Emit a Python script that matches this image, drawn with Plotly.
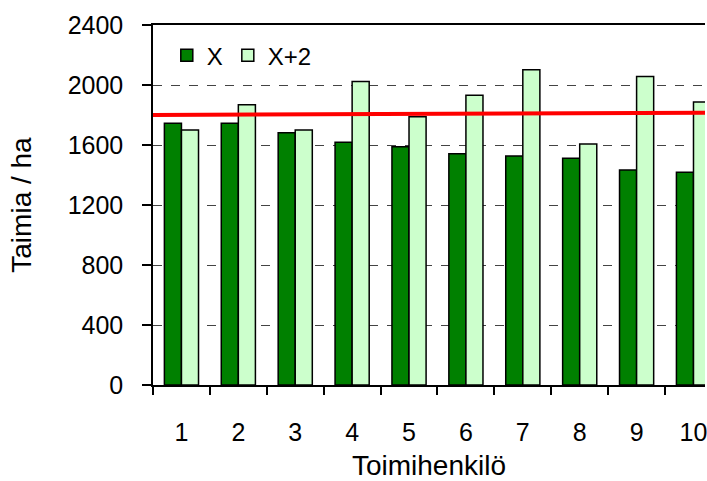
import plotly.graph_objects as go

categories = [1, 2, 3, 4, 5, 6, 7, 8, 9, 10]
tick_labels = ["1", "2", "3", "4", "5", "6", "7", "8", "9", "10"]
series_x = [1745, 1745, 1682, 1618, 1589, 1542, 1527, 1511, 1433, 1418]
series_x2 = [1700, 1869, 1700, 2024, 1789, 1931, 2102, 1607, 2056, 1887]
target_x = [0.5, 10.5]
target_y = [1800, 1816]
y_ticks = [0, 400, 800, 1200, 1600, 2000, 2400]

FONT = "Liberation Sans, Arial, sans-serif"

fig = go.Figure()
fig.add_trace(go.Bar(x=categories, y=series_x, name="X",
                     marker=dict(color="#008000", line=dict(color="black", width=1.5))))
fig.add_trace(go.Bar(x=categories, y=series_x2, name="X+2",
                     marker=dict(color="#CCFFCC", line=dict(color="black", width=1.5))))
fig.add_trace(go.Scatter(x=target_x, y=target_y, mode="lines", showlegend=False,
                         line=dict(color="#FF0000", width=4), cliponaxis=True))

fig.update_layout(
    width=707, height=481,
    margin=dict(l=153, r=0, t=25, b=96),
    paper_bgcolor="white", plot_bgcolor="white",
    font=dict(family=FONT, size=25, color="black"),
    barmode="group", bargap=0.4, bargroupgap=0,
    showlegend=True,
    legend=dict(orientation="h", x=0.025, y=0.915, xanchor="left", yanchor="middle",
                bgcolor="rgba(0,0,0,0)", font=dict(size=24), itemwidth=30,
                traceorder="normal"),
)
fig.update_xaxes(
    range=[0.5, 0.5 + (707 - 153) / 57.1],
    tickmode="array", tickvals=categories, ticktext=tick_labels,
    ticks="", showgrid=False, zeroline=False,
    showline=True, linecolor="black", linewidth=1.5, mirror=True,
    minor=dict(tickmode="array", tickvals=[c - 0.5 for c in categories] + [10.5],
               ticks="outside", ticklen=8, tickcolor="black", tickwidth=1.5, showgrid=False),
    ticklabelstandoff=24, ticklabeloverflow="allow",
    title=dict(text="Toimihenkilö", font=dict(size=28), standoff=12),
    fixedrange=True,
)
fig.update_yaxes(
    range=[0, 2400], tickmode="array", tickvals=y_ticks,
    ticks="outside", ticklen=9, tickwidth=1.5, tickcolor="black",
    showline=True, linecolor="black", linewidth=1.5, mirror=False,
    showgrid=True, gridcolor="#444444", griddash="dash", gridwidth=1,
    zeroline=False, ticklabelstandoff=14,
    title=dict(text="Taimia / ha", font=dict(size=28), standoff=28),
    fixedrange=True,
)

fig.write_html("out.html", config={"displayModeBar": False},
               post_script="document.body.style.margin='0';")
